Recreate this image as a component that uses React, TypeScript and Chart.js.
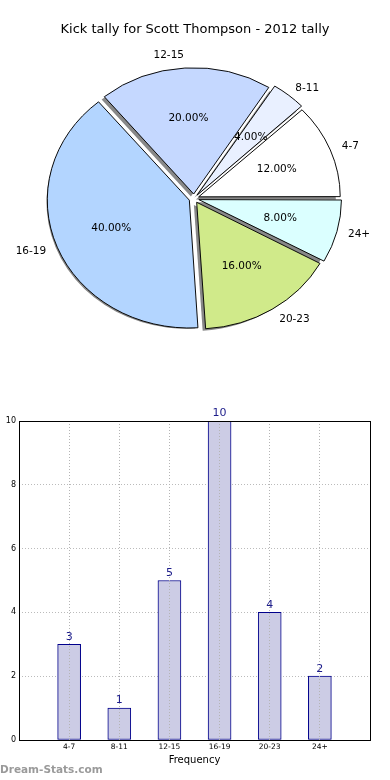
import React, { useEffect, useRef } from "react";
import { Chart, registerables } from "chart.js";

Chart.register(...registerables);

const TITLE = "Kick tally for Scott Thompson - 2012 tally";
const categories = ["4-7", "8-11", "12-15", "16-19", "20-23", "24+"];
const counts = [3, 1, 5, 10, 4, 2];
const pieColors = ["#ffffff", "#e9f0ff", "#c5d8ff", "#b3d5ff", "#d0ea8a", "#dbffff"];
const yTicks = [0, 2, 4, 6, 8, 10];
const X_TITLE = "Frequency";
const WATERMARK = "Dream-Stats.com";

const FONT = "'DejaVu Sans', sans-serif";
const ELLIPSE = 0.9;
const OFFSET_PX = 5; // explode distance in pixels

export default function App() {
  const pieRef = useRef<HTMLCanvasElement>(null);
  const barRef = useRef<HTMLCanvasElement>(null);

  useEffect(() => {
    document.body.style.margin = "0";
    // pie data in clockwise order starting at 3 o'clock (matplotlib is counter-clockwise)
    const pieLabels = [...categories].reverse();
    const pieValues = [...counts].reverse();
    const pieBg = [...pieColors].reverse();
    const total = counts.reduce((a, b) => a + b, 0);

    const ellipsePlugin = {
      id: "ellipse",
      beforeDatasetsDraw(chart: any) {
        const ctx = chart.ctx;
        const meta = chart.getDatasetMeta(0);
        const a0 = meta.data[0];
        const cx = a0.x, cy = a0.y;
        ctx.save();
        // shadows (drawn below all wedges)
        ctx.save();
        ctx.translate(-2.8, 2.6);
        ctx.translate(cx, cy);
        ctx.scale(1, ELLIPSE);
        ctx.translate(-cx, -cy);
        ctx.fillStyle = "#888888";
        meta.data.forEach((arc: any) => {
          const half = (arc.startAngle + arc.endAngle) / 2;
          const ox = arc.x + Math.cos(half) * OFFSET_PX;
          const oy = arc.y + Math.sin(half) * OFFSET_PX;
          ctx.beginPath();
          ctx.moveTo(ox, oy);
          ctx.arc(ox, oy, arc.outerRadius, arc.startAngle, arc.endAngle);
          ctx.closePath();
          ctx.fill();
        });
        ctx.restore();
        ctx.translate(cx, cy);
        ctx.scale(1, ELLIPSE);
        ctx.translate(-cx, -cy);
      },
      afterDatasetsDraw(chart: any) {
        chart.ctx.restore();
      },
      afterDraw(chart: any) {
        const ctx = chart.ctx;
        const meta = chart.getDatasetMeta(0);
        ctx.save();
        ctx.fillStyle = "#000";
        ctx.font = `13px ${FONT}`;
        ctx.textAlign = "center";
        ctx.textBaseline = "middle";
        ctx.fillText(TITLE, 195, 30);
        ctx.font = `10.5px ${FONT}`;
        meta.data.forEach((arc: any, i: number) => {
          const half = (arc.startAngle + arc.endAngle) / 2;
          const c = Math.cos(half), s = Math.sin(half);
          const R = arc.outerRadius;
          const pctD = OFFSET_PX + 0.6 * R;
          const labD = OFFSET_PX + 1.1 * R;
          const pct = ((pieValues[i] / total) * 100).toFixed(2) + "%";
          ctx.textAlign = "center";
          ctx.fillText(pct, arc.x + c * pctD, arc.y + s * pctD * ELLIPSE);
          ctx.textAlign = c >= 0 ? "left" : "right";
          ctx.fillText(pieLabels[i], arc.x + c * labD, arc.y + s * labD * ELLIPSE);
        });
        ctx.restore();
      },
    };

    const pie = new Chart(pieRef.current!, {
      type: "pie",
      data: {
        labels: pieLabels,
        datasets: [
          {
            data: pieValues,
            backgroundColor: pieBg,
            borderColor: "#000",
            borderWidth: 1,
            offset: OFFSET_PX * 4,
          },
        ],
      },
      options: {
        animation: false,
        responsive: false,
        rotation: 90,
        radius: 140,
        layout: { padding: { left: 0, right: 2, top: 0, bottom: 3 } },
        plugins: { legend: { display: false }, tooltip: { enabled: false } },
      },
      plugins: [ellipsePlugin],
    } as any);

    const barLabels = ["", ...categories, ""];
    const barData = [null, ...counts, null];

    const barPlugin = {
      id: "barExtras",
      afterDraw(chart: any) {
        const ctx = chart.ctx;
        const { left, right, top, bottom } = chart.chartArea;
        ctx.save();
        ctx.strokeStyle = "#000";
        ctx.lineWidth = 1;
        ctx.strokeRect(Math.round(left) + 0.5, Math.round(top) + 0.5, Math.round(right - left), Math.round(bottom - top));
        const meta = chart.getDatasetMeta(0);
        ctx.fillStyle = "#1c1c8a";
        ctx.font = `11px ${FONT}`;
        ctx.textAlign = "center";
        ctx.textBaseline = "bottom";
        meta.data.forEach((bar: any, i: number) => {
          const v = barData[i];
          if (v == null) return;
          ctx.fillText(String(v), bar.x, bar.y - 2);
        });
        ctx.restore();
      },
    };

    const bar = new Chart(barRef.current!, {
      type: "bar",
      data: {
        labels: barLabels,
        datasets: [
          {
            data: barData,
            backgroundColor: "#ccccE5",
            borderColor: "#00008b",
            borderWidth: 1,
            borderSkipped: false,
            barThickness: 23,
          },
        ],
      },
      options: {
        animation: false,
        responsive: false,
        layout: { padding: { left: 0, right: 20, top: 21, bottom: 0 } },
        plugins: { legend: { display: false }, tooltip: { enabled: false } },
        scales: {
          x: {
            offset: false,
            grid: { offset: false, color: "#b4b4b4", drawTicks: false, lineWidth: 1, z: 1 },
            border: { display: false, dash: [1, 2] },
            ticks: { color: "#000", font: { family: FONT, size: 7.5 }, padding: 3, maxRotation: 0, autoSkip: false },
            title: { display: true, text: X_TITLE, color: "#000", font: { family: FONT, size: 10 }, padding: { top: 0, bottom: 13.4 } },
            afterFit(s: any) {
              s.height = 40;
            },
          },
          y: {
            min: 0,
            max: 10,
            afterBuildTicks(s: any) {
              s.ticks = yTicks.map((v) => ({ value: v }));
            },
            grid: { color: "#bbbbbb", drawTicks: false, lineWidth: 1 },
            border: { display: false, dash: [1, 2] },
            ticks: { color: "#000", font: { family: FONT, size: 8 }, padding: 3 },
            afterFit(s: any) {
              s.width = 19;
            },
          },
        },
      },
      plugins: [barPlugin],
    } as any);

    return () => {
      pie.destroy();
      bar.destroy();
    };
  }, []);

  return (
    <div style={{ position: "relative", width: 390, height: 780, overflow: "hidden", background: "#fff" }}>
      <canvas ref={pieRef} width={390} height={400} style={{ position: "absolute", left: 0, top: 0, width: 390, height: 400 }} />
      <canvas ref={barRef} width={390} height={380} style={{ position: "absolute", left: 0, top: 400, width: 390, height: 380 }} />
      <div
        style={{
          position: "absolute",
          left: 0,
          top: 762,
          font: `bold 10.5px ${FONT}`,
          color: "#9a9a9a",
          lineHeight: "14px",
          whiteSpace: "nowrap",
        }}
      >
        {WATERMARK}
      </div>
    </div>
  );
}
